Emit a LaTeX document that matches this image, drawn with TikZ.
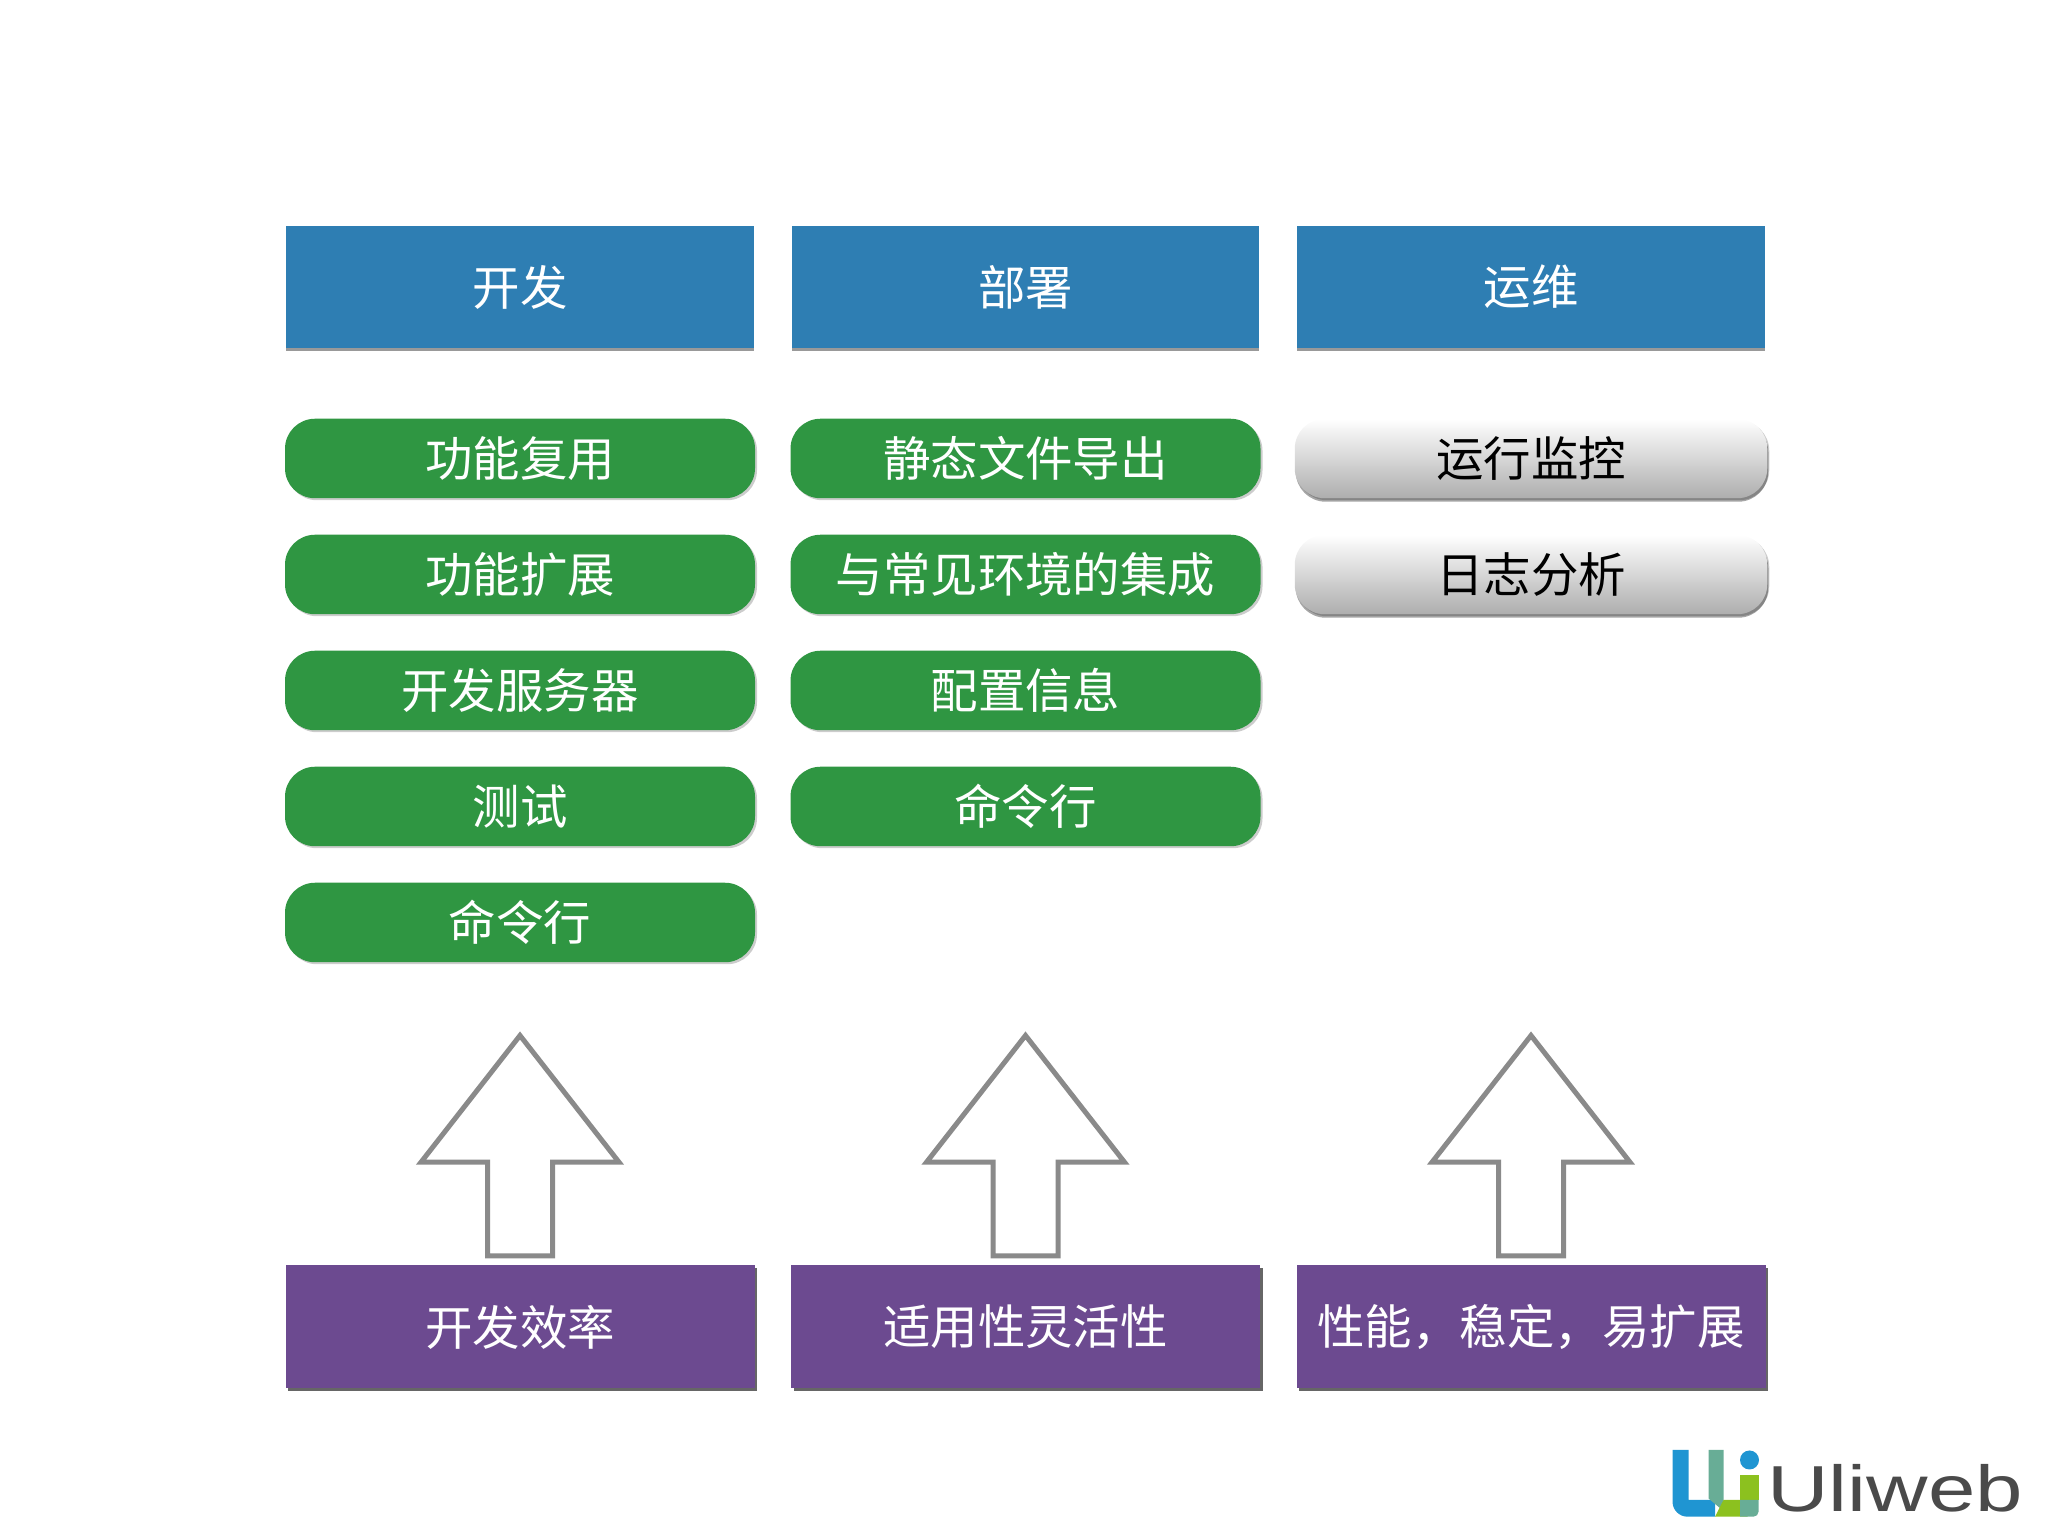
\documentclass[tikz,border=0pt]{standalone}
\usepackage{fontspec}
\setmainfont{Noto Sans CJK SC}
\newfontfamily\logofont{Liberation Sans}
\usetikzlibrary{shapes.arrows,shadows}
\definecolor{headblue}{HTML}{2E7EB3}
\definecolor{pillgreen}{HTML}{2F9642}
\definecolor{goalpurple}{HTML}{6C4A90}
\definecolor{arrowgray}{HTML}{8A8A8A}
\definecolor{logoblue}{HTML}{1F95D2}
\definecolor{logoteal}{HTML}{68AD96}
\definecolor{logogreen}{HTML}{8CC11F}
\definecolor{logotext}{HTML}{4A4A4A}
\tikzstyle{head} = [rectangle, fill=headblue, text=white, minimum width=9.35cm, minimum height=2.44cm,
    font=\fontsize{27}{30}\selectfont, inner sep=0pt,
    drop shadow={shadow xshift=0cm, shadow yshift=-0.07cm, fill=black, opacity=0.4}]
\tikzstyle{pill} = [rectangle, rounded corners=0.6cm, fill=pillgreen, text=white, minimum width=9.4cm, minimum height=1.59cm,
    font=\fontsize{27}{30}\selectfont, inner sep=0pt,
    drop shadow={shadow xshift=0.04cm, shadow yshift=-0.04cm, fill=black, opacity=0.2}]
\tikzstyle{greypill} = [pill, fill=none, minimum width=9.45cm, top color=white, bottom color=black!32, text=black,
    drop shadow={shadow xshift=0.02cm, shadow yshift=-0.07cm, fill=black, opacity=0.35}]
\tikzstyle{goal} = [rectangle, fill=goalpurple, text=white, minimum width=9.38cm, minimum height=2.46cm,
    font=\fontsize{27}{30}\selectfont, inner sep=0pt,
    drop shadow={shadow xshift=0.05cm, shadow yshift=-0.05cm, fill=black, opacity=0.6}]
\tikzstyle{uparrow} = [single arrow, draw=arrowgray, line width=0.1cm, fill=white, shape border rotate=90,
    inner sep=0.6cm, minimum height=4.41cm, single arrow head extend=1.33cm,
    single arrow tip angle=76, single arrow head indent=0cm, node distance=1.37cm]

\begin{document}
\begin{tikzpicture}[node distance = 10.11cm]
        \useasboundingbox (0,0) rectangle (40.96,30.72);
        % Place nodes
        \node [head] (dev) at (10.4,24.98) {开发};
        \node [head, right of=dev] (deploy) {部署};
        \node [head, right of=deploy] (ops) {运维};
        \node [pill, below of=dev, node distance=3.43cm] (dev1) {功能复用};
        \node [pill, below of=dev1, node distance=2.32cm] (dev2) {功能扩展};
        \node [pill, below of=dev2, node distance=2.32cm] (dev3) {开发服务器};
        \node [pill, below of=dev3, node distance=2.32cm] (dev4) {测试};
        \node [pill, below of=dev4, node distance=2.32cm] (dev5) {命令行};
        \node [pill, right of=dev1] (deploy1) {静态文件导出};
        \node [pill, below of=deploy1, node distance=2.32cm] (deploy2) {与常见环境的集成};
        \node [pill, below of=deploy2, node distance=2.32cm] (deploy3) {配置信息};
        \node [pill, below of=deploy3, node distance=2.32cm] (deploy4) {命令行};
        \node [greypill, right of=deploy1] (ops1) {运行监控};
        \node [greypill, below of=ops1, node distance=2.32cm] (ops2) {日志分析};
        \node [goal, below of=dev5, node distance=8.09cm] (devgoal) {开发效率};
        \node [goal, right of=devgoal] (deploygoal) {适用性灵活性};
        \node [goal, right of=deploygoal] (opsgoal) {性能，稳定，易扩展};
        \node [uparrow, above of=devgoal, anchor=tail] (devup) {};
        \node [uparrow, above of=deploygoal, anchor=tail] (deployup) {};
        \node [uparrow, above of=opsgoal, anchor=tail] (opsup) {};
        % Logo
        \fill [logoblue] (33.45,1.72) [rounded corners=0.3cm] -- (33.45,0.386) [sharp corners] -- (34.3,0.386) -- (34.3,0.72) -- (33.77,0.72) -- (33.77,1.72) -- cycle;
        \fill [logoteal] (34.17,1.72) -- (34.47,1.72) -- (34.47,0.5) -- (34.17,0.75) -- cycle;
        \fill [logogreen] (34.3,0.386) -- (34.95,0.386) -- (34.95,0.72) -- (34.47,0.72) -- cycle;
        \fill [logogreen] (34.8,1.22) rectangle (35.17,0.72);
        \fill [logoteal] (34.8,0.72) -- (35.17,0.72) [rounded corners=0.1cm] -- (35.17,0.386) [sharp corners] -- (34.8,0.386) -- cycle;
        \fill [logoblue] (34.99,1.52) circle (0.19);
        \node [logotext, font=\logofont\fontsize{37}{40}\selectfont, xscale=1.31, transform shape, inner sep=0pt] (logo) at (37.9,0.96) {Uliweb};
\end{tikzpicture}
\end{document}
